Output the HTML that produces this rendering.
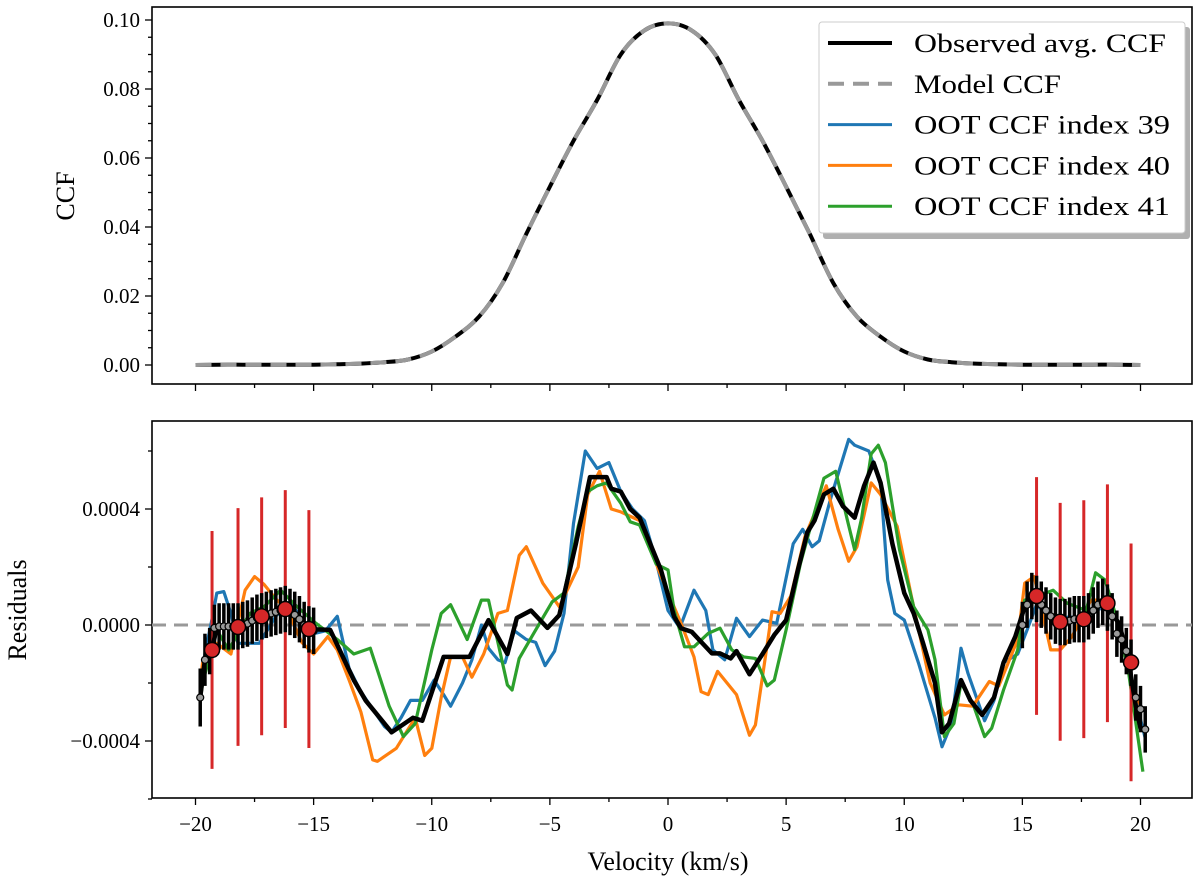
<!DOCTYPE html>
<html><head><meta charset="utf-8">
<style>
html,body{margin:0;padding:0;background:#fff;}
svg{display:block;font-family:"Liberation Serif","DejaVu Serif",serif;}
</style></head>
<body>
<svg id="fig" width="1200" height="889" viewBox="0 0 1200 889" xmlns="http://www.w3.org/2000/svg">
<g id="topPanel"></g>
<g id="botPanel"></g>
</svg>
<script>
// ---- Top panel data ----
const ccfVel = [-20,-19,-18,-17,-16,-15,-14,-13,-12,-11,-10,-9,-8,-7,-6,-5,-4,-3,-2,-1,0,1,2,3,4,5,6,7,8,9,10,11,12,13,14,15,16,17,18,19,20];
const ccfObs = [0.0000,0.0001,0.0001,0.0001,0.0001,0.0001,0.0002,0.0004,0.0008,0.0016,0.0039,0.0082,0.014,0.0237,0.038,0.0517,0.065,0.0768,0.090,0.097,0.099,0.097,0.090,0.0768,0.065,0.0517,0.038,0.0237,0.014,0.0082,0.0039,0.0016,0.0008,0.0004,0.0002,0.0001,0.0001,0.0001,0.0001,0.0001,0.0000];
const ccfModel = ccfObs.slice();
const ccfYTicks = [0.00,0.02,0.04,0.06,0.08,0.10];
const ccfYTickLabels = ["0.00","0.02","0.04","0.06","0.08","0.10"];
const xTicks = [-20,-15,-10,-5,0,5,10,15,20];
const xTickLabels = ["\u221220","\u221215","\u221210","\u22125","0","5","10","15","20"];

// ---- Residual data (units 1e-4) ----
const blueVel = [-19.8,-19.6,-19.3,-19.1,-18.8,-18.5,-18.2,-17.6,-17.3,-16.6,-16.0,-15.5,-15.0,-14.5,-14.0,-13.5,-13.0,-12.5,-12.0,-11.7,-11.3,-10.9,-10.4,-9.9,-9.5,-9.2,-8.7,-8.3,-7.9,-7.6,-7.2,-6.9,-6.5,-6.0,-5.6,-5.2,-4.8,-4.4,-4.0,-3.5,-3.0,-2.5,-2.0,-1.5,-1.0,-0.5,0.0,0.5,1.1,1.6,1.9,2.4,2.9,3.45,4.0,4.6,5.3,5.7,6.1,6.4,6.9,7.65,7.9,8.5,9.0,9.3,9.6,10.0,10.6,11.3,11.6,12.0,12.4,12.7,13.4,13.8,14.2,14.8,15.2,15.6,16.0,16.5,17.0,17.5,18.0,18.5,19.0,19.4,19.8,20.2];
const blueVal = [-2.3,-1.0,0.2,1.1,1.15,0.4,-0.63,-0.63,-0.63,0.3,0.8,0.2,-0.3,-0.2,0.3,-1.5,-2.3,-2.9,-3.5,-3.7,-3.2,-2.6,-2.6,-1.9,-2.4,-2.8,-2.0,-1.2,0.0,-0.8,-1.2,-1.3,-0.2,-0.5,-0.6,-1.4,-0.9,0.4,3.5,6.0,5.4,5.6,4.6,4.0,3.6,2.2,0.5,-0.1,1.2,0.5,-0.86,-1.2,0.23,-0.4,0.17,0.06,2.8,3.3,2.7,2.9,4.4,6.4,6.2,6.0,4.9,1.55,0.4,0.17,-1.3,-3.2,-4.2,-3.4,-0.8,-1.67,-3.3,-2.6,-1.3,-1.0,-0.17,0.7,0.4,0.1,0.3,0.1,0.5,0.6,0.2,-0.9,-2.6,-3.9];
const orangeVel = [-19.8,-19.7,-19.1,-18.5,-17.9,-17.5,-17.1,-16.6,-16.1,-15.5,-15.0,-14.4,-14.0,-13.5,-13.0,-12.5,-12.3,-11.5,-10.7,-10.3,-10.0,-9.6,-9.2,-8.7,-8.3,-7.8,-7.2,-6.8,-6.3,-6.0,-5.3,-4.6,-3.8,-3.4,-2.9,-2.4,-2.0,-1.2,-0.3,0.55,1.1,1.4,1.7,2.1,2.9,3.45,3.7,4.4,4.75,5.2,5.8,6.7,7.2,7.65,8.0,8.6,9.0,9.7,10.3,11.1,11.7,12.3,12.9,13.6,14.0,14.8,15.1,15.5,16.2,16.6,17.1,17.9,18.7,19.2,19.5,20.0,20.1];
const orangeVal = [-2.0,-1.3,-0.63,-1.0,1.2,1.67,1.4,0.9,0.5,-0.6,-1.0,-0.4,-0.86,-1.9,-3.0,-4.65,-4.7,-4.25,-3.2,-4.5,-4.25,-2.5,-1.1,-1.1,-1.8,-1.0,0.4,0.5,2.4,2.7,1.44,0.63,2.0,4.5,5.3,4.0,3.9,3.6,1.7,0.06,-1.1,-2.3,-2.4,-1.6,-2.4,-3.8,-3.45,0.46,0.4,1.0,3.05,4.8,3.3,2.2,2.7,4.9,4.5,3.4,1.0,-2.0,-3.1,-2.75,-2.8,-1.95,-2.1,-0.5,1.44,1.67,-0.86,-0.86,-0.4,0.86,0.86,-0.4,-1.67,-2.8,-2.9];
const greenVel = [-19.8,-19.7,-19.1,-18.6,-17.7,-17.1,-16.4,-15.7,-14.9,-14.0,-13.3,-12.6,-11.8,-11.2,-10.7,-10.0,-9.6,-9.2,-8.5,-7.9,-7.6,-6.8,-6.6,-6.3,-5.6,-4.9,-4.4,-3.8,-3.4,-3.0,-2.6,-2.0,-1.6,-1.2,-0.5,0.0,0.26,0.7,1.1,1.7,2.2,2.7,3.2,3.7,4.2,4.5,5.0,5.6,6.6,7.1,7.6,7.9,8.2,8.6,8.9,9.2,9.8,10.4,11.0,11.3,11.7,12.1,12.4,12.9,13.4,13.7,14.2,14.8,15.1,15.6,16.3,16.9,17.7,18.1,18.5,19.1,19.5,20.1];
const greenVal = [-2.6,-2.0,-0.17,-0.86,0.4,0.63,1.2,0.63,0.06,-0.5,-1.0,-0.8,-2.8,-3.85,-3.4,-0.86,0.4,0.7,-0.5,0.86,0.86,-2.07,-2.24,-1.15,-0.17,0.8,1.1,3.4,4.6,4.8,4.9,4.2,3.56,3.45,2.1,1.9,0.5,-0.75,-0.75,-0.29,-0.11,-0.86,-1.1,-1.15,-2.1,-1.9,-0.17,2.1,5.06,5.3,3.6,2.6,3.7,5.9,6.2,5.6,2.6,0.63,-0.17,-1.2,-3.85,-3.4,-2.0,-2.7,-3.85,-3.56,-2.24,-0.86,0.86,0.98,1.2,0.75,0.5,1.8,1.55,-0.06,-1.67,-5.06];
const blackVel = [-19.8,-19.6,-19.3,-19.1,-18.2,-17.2,-16.2,-15.2,-14.3,-13.3,-12.8,-11.7,-10.8,-10.4,-9.5,-9.2,-8.4,-7.6,-6.8,-6.4,-5.8,-5.1,-4.6,-3.9,-3.3,-2.6,-2.4,-2.0,-1.6,-1.2,-0.3,0.26,0.55,1.0,1.86,2.2,2.65,2.9,3.45,4.0,4.5,5.0,5.5,5.9,6.2,6.6,7.0,7.4,7.9,8.3,8.7,9.0,9.5,10.0,10.4,10.8,11.3,11.6,11.9,12.4,12.8,13.3,13.8,14.2,14.7,15.1,15.5,15.9,16.5,17.5,18.4,19.1,19.5,19.8,20.0,20.2];
const blackVal = [-2.5,-1.2,-0.86,-0.07,-0.07,0.3,0.55,-0.14,-0.17,-1.9,-2.6,-3.7,-3.2,-3.3,-1.1,-1.1,-1.1,0.17,-1.0,0.24,0.5,-0.1,0.34,2.8,5.1,5.1,4.7,4.6,4.0,3.7,1.9,0.29,-0.11,-0.23,-0.98,-0.98,-1.15,-0.9,-1.7,-1.0,-0.34,0.17,1.9,3.2,3.6,4.5,4.7,4.1,3.7,4.8,5.6,4.9,2.8,1.1,0.4,-0.63,-2.0,-3.7,-3.4,-1.9,-2.6,-3.1,-2.5,-1.3,-0.4,0.63,1.0,0.57,0.11,0.23,0.75,0.06,-1.26,-2.8,-3.56,-3.6];
const ebVel = [-19.8,-19.6,-19.4,-19.2,-19.0,-18.8,-18.6,-18.4,-18.2,-18.0,-17.8,-17.6,-17.4,-17.2,-17.0,-16.8,-16.6,-16.4,-16.2,-16.0,-15.8,-15.6,-15.4,-15.2,-15.0,15.0,15.2,15.4,15.6,15.8,16.0,16.2,16.4,16.6,16.8,17.0,17.2,17.4,17.6,17.8,18.0,18.2,18.4,18.6,18.8,19.0,19.2,19.4,19.6,19.8,20.0,20.2];
const ebVal = [-2.5,-1.2,-0.9,-0.1,-0.05,-0.05,-0.05,-0.05,-0.05,0.0,0.05,0.15,0.25,0.3,0.35,0.4,0.45,0.5,0.55,0.45,0.35,0.2,0.0,-0.15,-0.2,0.0,0.7,1.0,0.9,0.7,0.5,0.3,0.15,0.1,0.1,0.15,0.2,0.2,0.2,0.3,0.5,0.7,0.8,0.6,0.3,-0.3,-0.5,-0.9,-1.3,-2.5,-2.9,-3.6];
const ebErr = [1.0,0.9,0.8,0.8,0.8,0.8,0.8,0.8,0.8,0.8,0.8,0.8,0.8,0.8,0.8,0.8,0.8,0.8,0.8,0.8,0.8,0.8,0.8,0.8,0.8,0.8,0.8,0.8,0.8,0.8,0.8,0.8,0.8,0.8,0.8,0.8,0.8,0.8,0.8,0.8,0.8,0.8,0.8,0.8,0.8,0.8,0.8,0.8,0.8,0.8,0.8,0.8];
const binVel = [-19.3,-18.2,-17.2,-16.2,-15.2,15.6,16.6,17.6,18.6,19.6];
const binVal = [-0.86,-0.07,0.3,0.55,-0.14,1.0,0.11,0.2,0.75,-1.29];
const binErr = [4.1,4.1,4.1,4.1,4.1,4.1,4.1,4.1,4.1,4.1];
const resYTicks = [-4,0,4];
const resYTickLabels = ["\u22120.0004","0.0000","0.0004"];
const resMinor = [-6,-4,-2,0,2,4,6];

const NS="http://www.w3.org/2000/svg";
function mk(parent, tag, attrs){const e=document.createElementNS(NS,tag);for(const k in attrs)e.setAttribute(k,attrs[k]);parent.appendChild(e);return e;}
const L=152,R=1192;
const xS=v=>668+v*23.625;
const topT=7,topB=384;
const yTop=v=>365-v/0.02*69;
const botT=421,botB=798;
const yBot=v=>625-v*29;
const gTop=document.getElementById('topPanel'), gBot=document.getElementById('botPanel');

function axes(g,T,B){
  let f=mk(g,'rect',{x:L,y:T,width:R-L,height:B-T,fill:'none',stroke:'#000','stroke-width':1.6});
  
  
  for(let v=-20;v<=20;v+=2.5){
    const major=Math.abs(v%5)<1e-9;
    const t=mk(g,'line',{x1:xS(v),x2:xS(v),y1:B,y2:B+(major?7:4),stroke:'#000','stroke-width':1.3});
    
    
  }
}
axes(gTop,topT,topB);
axes(gBot,botT,botB);

for(let v=0;v<=0.1001;v+=0.005){
  const major=Math.abs(Math.round(v*1000)%20)<1;
  const t=mk(gTop,'line',{x1:L-(major?7:4),x2:L,y1:yTop(v),y2:yTop(v),stroke:'#000','stroke-width':1.3});
  
  
}
ccfYTicks.forEach((v,i)=>{
  const t=mk(gTop,'text',{x:L-12,y:yTop(v)+7,'text-anchor':'end','font-size':21});
  t.textContent=ccfYTickLabels[i];
  
  
});
let yl=mk(gTop,'text',{x:0,y:0,transform:'translate(74,196) rotate(-90)','text-anchor':'middle','font-size':26});
yl.textContent='CCF';



const pts=(vs,ys,fy)=>vs.map((v,i)=>xS(v).toFixed(1)+','+fy(ys[i]).toFixed(1)).join(' ');
function smooth(vs,ys,fy){
  const P=vs.map((v,i)=>[xS(v),fy(ys[i])]);
  let d='M'+P[0][0].toFixed(1)+','+P[0][1].toFixed(1);
  for(let i=0;i<P.length-1;i++){
    const p0=P[Math.max(0,i-1)],p1=P[i],p2=P[i+1],p3=P[Math.min(P.length-1,i+2)];
    const c1=[p1[0]+(p2[0]-p0[0])/6,p1[1]+(p2[1]-p0[1])/6];
    const c2=[p2[0]-(p3[0]-p1[0])/6,p2[1]-(p3[1]-p1[1])/6];
    d+=' C'+c1[0].toFixed(1)+','+c1[1].toFixed(1)+' '+c2[0].toFixed(1)+','+c2[1].toFixed(1)+' '+p2[0].toFixed(1)+','+p2[1].toFixed(1);
  }
  return d;
}
let ob=mk(gTop,'path',{d:smooth(ccfVel,ccfObs,yTop),fill:'none',stroke:'#000','stroke-width':4,'stroke-linejoin':'round'});


let mo=mk(gTop,'path',{d:smooth(ccfVel,ccfModel,yTop),fill:'none',stroke:'#999','stroke-width':4,'stroke-dasharray':'16,9','stroke-linejoin':'round'});



const lg=mk(gTop,'g',{});


mk(lg,'rect',{x:823,y:27,width:367,height:212,fill:'#b0b0b0',rx:3});
mk(lg,'rect',{x:819,y:22,width:366,height:211,fill:'#fff',stroke:'#ccc','stroke-width':1,rx:3});
const legItems=[['Observed avg. CCF','#000',''],['Model CCF','#999','16,9'],['OOT CCF index 39','#1f77b4',''],['OOT CCF index 40','#ff7f0e',''],['OOT CCF index 41','#2ca02c','']];
const legLens=[252,147,256,256,256];
legItems.forEach((it,i)=>{
  const y=43+i*40.8;
  const ln=mk(lg,'line',{x1:828,x2:892,y1:y,y2:y,stroke:it[1],'stroke-width':i<2?4:3,'stroke-dasharray':it[2]||'none'});
  
  
  const t=mk(lg,'text',{x:914,y:y+9,'font-size':26,textLength:legLens[i],lengthAdjust:'spacingAndGlyphs'});
  t.textContent=it[0];
  
  
});

resMinor.forEach(v=>{
  const major=resYTicks.includes(v);
  const t=mk(gBot,'line',{x1:L-(major?7:4),x2:L,y1:yBot(v),y2:yBot(v),stroke:'#000','stroke-width':1.3});
  
  
});
resYTicks.forEach((v,i)=>{
  const t=mk(gBot,'text',{x:L-12,y:yBot(v)+7,'text-anchor':'end','font-size':21});
  t.textContent=resYTickLabels[i];
  
  
});
let yl2=mk(gBot,'text',{x:0,y:0,transform:'translate(26,610) rotate(-90)','text-anchor':'middle','font-size':26});
yl2.textContent='Residuals';


xTicks.forEach((v,i)=>{
  const t=mk(gBot,'text',{x:xS(v),y:831,'text-anchor':'middle','font-size':21});
  t.textContent=xTickLabels[i];
  
  
});
let xl=mk(gBot,'text',{x:668,y:870,'text-anchor':'middle','font-size':26});
xl.textContent='Velocity (km/s)';



let z=mk(gBot,'line',{x1:L,x2:R,y1:yBot(0),y2:yBot(0),stroke:'#999','stroke-width':3,'stroke-dasharray':'14,8'});



let s1=mk(gBot,'polyline',{points:pts(blueVel,blueVal,yBot),fill:'none',stroke:'#1f77b4','stroke-width':3.2,'stroke-linejoin':'round'});


let s2=mk(gBot,'polyline',{points:pts(orangeVel,orangeVal,yBot),fill:'none',stroke:'#ff7f0e','stroke-width':3.2,'stroke-linejoin':'round'});


let s3=mk(gBot,'polyline',{points:pts(greenVel,greenVal,yBot),fill:'none',stroke:'#2ca02c','stroke-width':3.2,'stroke-linejoin':'round'});



binVel.forEach((v,i)=>{
  const e=mk(gBot,'line',{x1:xS(v),x2:xS(v),y1:yBot(binVal[i]+binErr[i]),y2:yBot(binVal[i]-binErr[i]),stroke:'#d62728','stroke-width':3});
  
  
});
ebVel.forEach((v,i)=>{
  const e=mk(gBot,'line',{x1:xS(v),x2:xS(v),y1:yBot(ebVal[i]+ebErr[i]),y2:yBot(ebVal[i]-ebErr[i]),stroke:'#000','stroke-width':3.5});
  
  
});
let bl=mk(gBot,'polyline',{points:pts(blackVel,blackVal,yBot),fill:'none',stroke:'#000','stroke-width':4.5,'stroke-linejoin':'round'});


ebVel.forEach((v,i)=>{
  const c=mk(gBot,'circle',{cx:xS(v),cy:yBot(ebVal[i]),r:3.5,fill:'#999',stroke:'#000','stroke-width':1.2});
  
  
});
binVel.forEach((v,i)=>{
  const c=mk(gBot,'circle',{cx:xS(v),cy:yBot(binVal[i]),r:7.5,fill:'#d62728',stroke:'#000','stroke-width':1.5});
  
  
});
</script>
</body></html>
